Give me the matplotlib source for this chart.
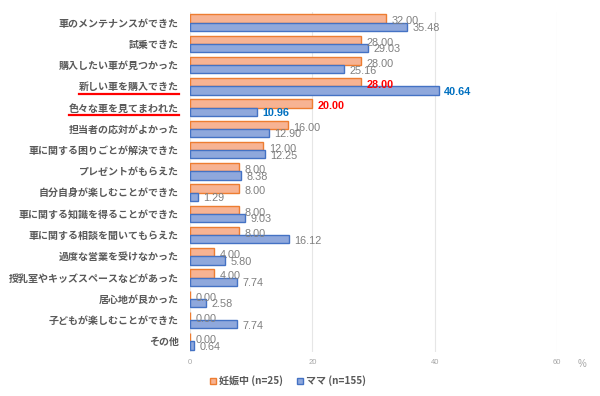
import numpy as np
import matplotlib
matplotlib.use("Agg")
import matplotlib.pyplot as plt
from matplotlib.lines import Line2D

plt.rcParams['font.family'] = ['Noto Sans CJK JP', 'DejaVu Sans']

# ==== DATA ====
categories = [
    "車のメンテナンスができた",
    "試乗できた",
    "購入したい車が見つかった",
    "新しい車を購入できた",
    "色々な車を見てまわれた",
    "担当者の応対がよかった",
    "車に関する困りごとが解決できた",
    "プレゼントがもらえた",
    "自分自身が楽しむことができた",
    "車に関する知識を得ることができた",
    "車に関する相談を聞いてもらえた",
    "過度な営業を受けなかった",
    "授乳室やキッズスペースなどがあった",
    "居心地が良かった",
    "子どもが楽しむことができた",
    "その他",
]
pregnant = [32.00, 28.00, 28.00, 28.00, 20.00, 16.00, 12.00, 8.00,
            8.00, 8.00, 8.00, 4.00, 4.00, 0.00, 0.00, 0.00]
mama = [35.48, 29.03, 25.16, 40.64, 10.96, 12.90, 12.25, 8.38,
        1.29, 9.03, 16.12, 5.80, 7.74, 2.58, 7.74, 0.64]
series_labels = ["妊娠中 (n=25)", "ママ (n=155)"]
highlight = [3, 4]   # rows underlined in red
x_ticks = [0, 20, 40, 60]

# ==== STYLE ====
gray_txt = '#595959'
val_txt = '#7F7F7F'
num_font = ['Liberation Sans', 'DejaVu Sans']
orange_face, orange_edge = '#F7B393', '#ED7D31'
blue_face, blue_edge = '#8FA8DC', '#4472C4'

fig = plt.figure(figsize=(6, 3.96), dpi=100)
ax = fig.add_axes([190/600, 1-352/396, 367/600, 340/396])

y = np.arange(len(categories))
h = 0.39
ax.barh(y - h/2, pregnant, height=h, color=orange_face, edgecolor=orange_edge,
        linewidth=1.0, label=series_labels[0], zorder=3)
ax.barh(y + h/2, mama, height=h, color=blue_face, edgecolor=blue_edge,
        linewidth=1.0, label=series_labels[1], zorder=3)

for i in y:
    oc, bc = val_txt, val_txt
    wt = 'normal'
    if i in highlight:
        oc, bc = '#FF0000', '#0070C0'
        wt = 'bold'
    ax.annotate(f"{pregnant[i]:.2f}", (pregnant[i], i - h/2), xytext=(4, -2),
                textcoords='offset points', va='center', ha='left',
                fontsize=7.8, color=oc, fontweight=wt, family=num_font)
    ax.annotate(f"{mama[i]:.2f}", (mama[i], i + h/2), xytext=(4, -1),
                textcoords='offset points', va='center', ha='left',
                fontsize=7.8, color=bc, fontweight=wt, family=num_font)

ax.set_xlim(0, 60)
ax.set_ylim(len(categories) - 0.5, -0.5)
ax.set_xticks(x_ticks)
ax.set_xticklabels([str(t) for t in x_ticks], fontsize=5.5, color='#A6A6A6',
                   family=num_font)
ax.set_yticks(y)
ax.set_yticklabels(categories, fontsize=7.2, color=gray_txt, fontweight='bold')
ax.tick_params(axis='both', length=0)
ax.tick_params(axis='x', pad=5)
ax.tick_params(axis='y', pad=8)
ax.grid(axis='x', color='#E6E6E6', linewidth=0.8, zorder=0)
for s in ax.spines.values():
    s.set_visible(False)

ax.text(1.068, -0.02, "%", transform=ax.transAxes, fontsize=7, color='#A6A6A6',
        ha='center', va='top', family=num_font)

leg = fig.legend(loc='center', bbox_to_anchor=(0.48, 1-381/396), ncol=2,
                 frameon=False, fontsize=7.2, handlelength=0.6, handleheight=0.6,
                 handletextpad=0.3, columnspacing=1.4)
for t in leg.get_texts():
    t.set_color(gray_txt)
    t.set_fontweight('bold')

# red underline under highlighted labels
fig.canvas.draw()
inv = fig.transFigure.inverted()
for i in highlight:
    bb = ax.get_yticklabels()[i].get_window_extent()
    (x0, y0), (x1, _) = inv.transform([(bb.x0, bb.y0), (bb.x1, bb.y1)])
    fig.add_artist(Line2D([x0, x1], [y0 - 0.004, y0 - 0.004], color='#FF0000',
                          linewidth=1.6, transform=fig.transFigure))

fig.savefig("out.png", dpi=100)
